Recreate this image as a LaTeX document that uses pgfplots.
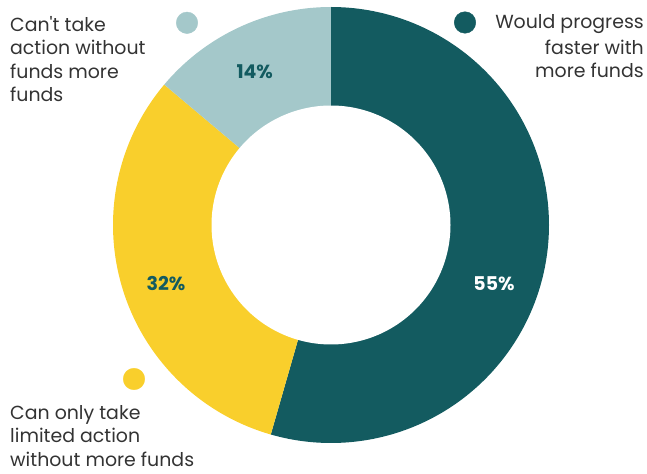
\documentclass[border=0pt]{standalone}
\usepackage{pgfplots}
\pgfplotsset{compat=1.18}
\usepackage{fontspec}
\setmainfont{Poppins}
\definecolor{cTeal}{HTML}{135B60}
\definecolor{cYellow}{HTML}{F9CF2C}
\definecolor{cLight}{HTML}{A4C8CA}
\definecolor{cText}{HTML}{333333}
\pgfplotstableread{
label value
progress 55
limited 32
cant 14
}\sharetable
\pgfplotstablegetelem{0}{value}\of\sharetable \let\vA\pgfplotsretval
\pgfplotstablegetelem{1}{value}\of\sharetable \let\vB\pgfplotsretval
\pgfplotstablegetelem{2}{value}\of\sharetable \let\vC\pgfplotsretval
\pgfmathsetmacro{\tot}{\vA+\vB+\vC}
\pgfmathsetmacro{\aA}{90-\vA/\tot*360}
\pgfmathsetmacro{\aB}{\aA-\vB/\tot*360}
\pgfmathsetmacro{\aC}{\aB-\vC/\tot*360}
\begin{document}
\begin{tikzpicture}
\useasboundingbox (0,0) rectangle (647bp,474bp);
\begin{axis}[at={(0,0)}, anchor=south west, scale only axis,
  width=647bp, height=474bp, xmin=0, xmax=647, ymin=0, ymax=474,
  hide axis, clip=false]
\addplot[fill=cTeal, draw=none, domain=\aA:90, samples=160, variable=\t]
  ({331+218*cos(\t)},{249+218*sin(\t)}) -- (axis cs:331,249) -- cycle;
\addplot[fill=cYellow, draw=none, domain=\aB:\aA, samples=120, variable=\t]
  ({331+218*cos(\t)},{249+218*sin(\t)}) -- (axis cs:331,249) -- cycle;
\addplot[fill=cLight, draw=none, domain=\aC:\aB, samples=80, variable=\t]
  ({331+218*cos(\t)},{249+218*sin(\t)}) -- (axis cs:331,249) -- cycle;
\addplot[fill=white, draw=none, domain=0:360, samples=200, variable=\t]
  ({331+119.5*cos(\t)},{249+119.5*sin(\t)}) -- cycle;
% legend dots
\addplot[only marks, mark=*, mark size=10.8pt, color=cTeal] coordinates {(465,451.5)};
\addplot[only marks, mark=*, mark size=10.8pt, color=cLight] coordinates {(187,451.2)};
\addplot[only marks, mark=*, mark size=10.8pt, color=cYellow] coordinates {(134,95)};
% labels
\begin{scope}[every node/.style={inner sep=0pt, text=cText, font=\fontsize{19}{23}\selectfont}]
\node[anchor=base west] at (axis cs:10,442.3) {Can\textquotesingle t take};
\node[anchor=base west] at (axis cs:10,419.0) {action without};
\node[anchor=base west] at (axis cs:10,395.7) {funds more};
\node[anchor=base west] at (axis cs:10,372.4) {funds};
\node[anchor=base east] at (axis cs:644,445.7) {Would progress};
\node[anchor=base east] at (axis cs:644,419.7) {faster with};
\node[anchor=base east] at (axis cs:644,396.7) {more funds};
\node[anchor=base west] at (axis cs:10,54.6) {Can only take};
\node[anchor=base west] at (axis cs:10,31.3) {limited action};
\node[anchor=base west] at (axis cs:10,8) {without more funds};
\end{scope}
\begin{scope}[every node/.style={inner sep=0pt, font=\fontsize{19}{23}\selectfont\bfseries}]
\node[text=cTeal] at (axis cs:254.7,402.5) {\vC\%};
\node[text=cTeal] at (axis cs:166,190) {\vB\%};
\node[text=white] at (axis cs:494,190) {\vA\%};
\end{scope}
\end{axis}
\end{tikzpicture}
\end{document}
